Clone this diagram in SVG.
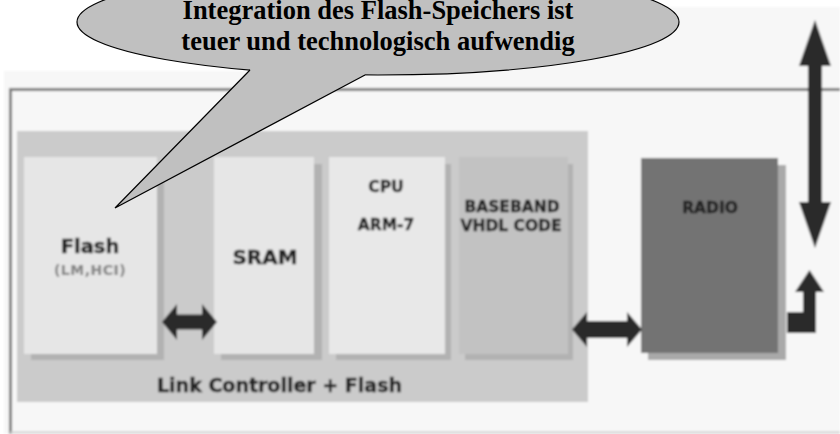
<svg xmlns="http://www.w3.org/2000/svg" width="840" height="434" viewBox="0 0 840 434">
  <defs>
    <filter id="soft" x="-5%" y="-5%" width="110%" height="110%">
      <feGaussianBlur stdDeviation="0.8"/>
    </filter>
  </defs>
  <style>
    .box-light { fill: #e6e6e6; }
    .box-mid { fill: #c2c2c2; }
    .box-dark { fill: #737373; }
    .shadow { fill: #b2b2b2; }
    .shadow-dark { fill: #a9a9a9; }
    .lbl { font-family: "DejaVu Sans", "Liberation Sans", sans-serif; font-weight: bold; fill: #222; stroke: #222; stroke-width: 0.45px; text-anchor: middle; }
    .small { font-size: 15.5px; }
    .big { font-size: 19.5px; }
    .sub { font-size: 14px; letter-spacing: 0.5px; fill: #858585; stroke: #858585; stroke-width: 0.2px; }
    .arrow { fill: #2b2b2b; }
    .bubble { fill: #c0c0c0; }
    .bubble-line { fill: none; stroke: #000; stroke-width: 1.2; }
    .bubble-text { font-family: "Liberation Serif", "Times New Roman", serif; font-weight: bold; font-size: 26.5px; fill: #000; text-anchor: middle; }
  </style>

  <rect width="840" height="434" fill="#ffffff"/>

  <g id="diagram" filter="url(#soft)">
    <!-- panel background and outer frame -->
    <polygon points="4,71 300,71 300,7 840,7 840,434 4,434" fill="#f7f7f7"/>
    <path d="M10.5,434 V89.5 H840" fill="none" stroke="#7c7c7c" stroke-width="3"/>
    <path d="M10,432.5 H840" fill="none" stroke="#cfcfcf" stroke-width="2"/>

    <g id="link-controller">
      <rect x="17" y="131" width="571" height="271" fill="#cbcbcb"/>
      <text class="lbl" x="157" y="392" style="text-anchor:start;font-size:19px">Link Controller + Flash</text>
    </g>

    <g id="flash">
      <rect class="shadow" x="31" y="164" width="133" height="196"/>
      <rect class="box-light" x="24" y="157" width="133" height="197"/>
      <text class="lbl big" x="90" y="253">Flash</text>
      <text class="lbl sub" x="90" y="275">(LM,HCI)</text>
    </g>

    <g id="sram">
      <rect class="shadow" x="221" y="164" width="101" height="196"/>
      <rect class="box-light" x="214" y="157" width="100" height="197"/>
      <text class="lbl big" x="265" y="264" style="font-size:20px">SRAM</text>
    </g>

    <g id="cpu">
      <rect class="shadow" x="336" y="164" width="115" height="196"/>
      <rect class="box-light" x="329" y="157" width="116" height="197" style="fill:#e8e8e8"/>
      <text class="lbl small" x="386" y="192">CPU</text>
      <text class="lbl small" x="386" y="230">ARM-7</text>
    </g>

    <g id="baseband">
      <rect class="shadow" x="465" y="164" width="108" height="196"/>
      <rect class="box-mid" x="459" y="157" width="109" height="197"/>
      <text class="lbl small" x="512" y="212">BASEBAND</text>
      <text class="lbl small" x="511" y="231">VHDL CODE</text>
    </g>

    <g id="radio">
      <rect class="shadow-dark" x="648" y="165" width="138" height="195"/>
      <rect class="box-dark" x="641" y="158" width="137" height="195"/>
      <text class="lbl small" x="710" y="213">RADIO</text>
    </g>

    <g id="connectors">
      <!-- Flash <-> SRAM -->
      <polygon class="arrow" points="162,322 177,304 177,314.5 202,314.5 202,304 217,322 202,340 202,329.5 177,329.5 177,340"/>
      <!-- Baseband <-> Radio -->
      <polygon class="arrow" points="572,329.5 587,312 587,321 627,321 627,312 642,329.5 627,347 627,338 587,338 587,347"/>
      <!-- external interface, vertical double arrow -->
      <polygon class="arrow" points="815,20 831,66 822,66 822,202 831,202 815,248 799,202 808,202 808,66 799,66"/>
      <!-- radio output, bent arrow -->
      <polygon class="arrow" points="787,312 803,312 803,292 795,292 809.5,270 824,292 816,292 816,333 787,333"/>
    </g>
  </g>

  <g id="callout">
    <ellipse class="bubble" cx="378" cy="22" rx="301" ry="53"/>
    <ellipse class="bubble-line" cx="378" cy="22" rx="301" ry="53"/>
    <polygon class="bubble" points="252,62 250,70 115,208 365,75 362,62"/>
    <polyline class="bubble-line" points="250,70 115,208 365,75"/>
    <text class="bubble-text" x="378" y="19">Integration des Flash-Speichers ist</text>
    <text class="bubble-text" x="378" y="49.5">teuer und technologisch aufwendig</text>
  </g>
</svg>
